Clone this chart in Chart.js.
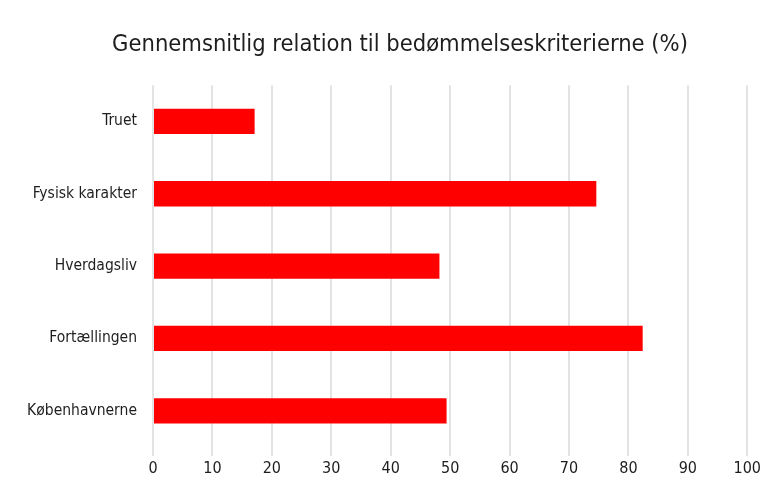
<!DOCTYPE html>
<html>
<head>
<meta charset="utf-8">
<script src="https://cdn.jsdelivr.net/npm/chart.js@4"></script>
<style>
  html, body { margin: 0; padding: 0; background: #fff; }
  #wrap { width: 764px; height: 488px; }
</style>
</head>
<body>
<div id="wrap"><canvas id="criteriaChart" width="764" height="488"></canvas></div>
<script>
const categories = ['Truet', 'Fysisk karakter', 'Hverdagsliv', 'Fortællingen', 'Københavnerne'];
const averages = [17.1, 74.6, 48.2, 82.4, 49.4];
const xTicks = [0, 10, 20, 30, 40, 50, 60, 70, 80, 90, 100];

const fontFamily = '"DejaVu Sans Condensed", "Liberation Sans Narrow", "Roboto", sans-serif';
const textColor = '#1e1e1e';
const gridColor = '#e3e3e3';

// long category names run past the padded axis box, so don't clip them
const unclipLabels = {
  id: 'unclipLabels',
  afterLayout: chart => { chart.scales.y.left = 0; }
};

const ctx = document.getElementById('criteriaChart').getContext('2d');

new Chart(ctx, {
  type: 'bar',
  data: {
    labels: categories,
    datasets: [{
      label: 'Gennemsnit (%)',
      data: averages,
      backgroundColor: '#ff0000',
      borderWidth: 0,
      barPercentage: 0.35,
      categoryPercentage: 1
    }]
  },
  options: {
    indexAxis: 'y',
    responsive: false,
    animation: false,
    layout: { padding: { left: 36, right: 0, top: 0, bottom: 0 } },
    scales: {
      x: {
        min: 0,
        max: 100,
        afterBuildTicks: axis => { axis.ticks = xTicks.map(v => ({ value: v })); },
        afterFit: axis => { axis.height = 41; },
        border: { display: false },
        grid: { color: gridColor, lineWidth: 2, drawTicks: true, tickLength: 9, tickColor: gridColor },
        ticks: { color: textColor, padding: 3, font: { family: fontFamily, size: 16 } }
      },
      y: {
        afterFit: axis => { axis.width = 117; },
        border: { display: false },
        grid: { display: false },
        ticks: { color: textColor, padding: 8, font: { family: fontFamily, size: 15.5 } }
      }
    },
    plugins: {
      legend: { display: false },
      tooltip: { enabled: false },
      title: {
        display: true,
        text: 'Gennemsnitlig relation til bedømmelseskriterierne (%)',
        color: textColor,
        font: { family: fontFamily, size: 23.5, weight: 'normal' },
        padding: { top: 31, bottom: 26 }
      }
    }
  },
  plugins: [unclipLabels]
});
</script>
</body>
</html>
